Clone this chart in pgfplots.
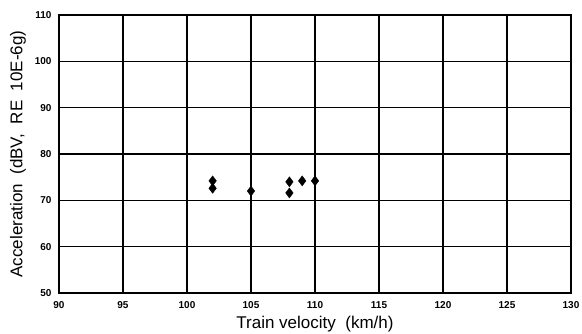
\documentclass[border=0pt]{standalone}
\usepackage{fontspec}
\setmainfont{Liberation Sans}
\usepackage{pgfplots}
\pgfplotsset{compat=1.18}
\begin{document}
\begin{tikzpicture}
\begin{axis}[
  name=ax,
  scale only axis,
  width=512pt, height=278pt,
  xmin=90, xmax=130, ymin=50, ymax=110,
  xtick={90,95,...,130}, ytick={50,60,...,110},
  grid=major,
  major grid style={black, line width=1.2pt},
  axis line style={black, line width=2pt},
  tick style={draw=none},
  /pgf/number format/assume math mode=true,
  ticklabel style={font=\fontsize{10}{11}\selectfont\bfseries},
  xticklabel style={yshift=-5pt},
  yticklabel style={xshift=-4pt},
  xlabel={Train velocity\ \ (km/h)},
  ylabel={Acceleration\ \ (dBV,\ \ RE\ \ 10E-6g)},
  every axis x label/.style={at={(axis description cs:0.5,0)}, yshift=-31pt, anchor=center, font=\fontsize{17}{19}\selectfont},
  every axis y label/.style={at={(axis description cs:0,0.5)}, xshift=-41pt, rotate=90, anchor=center, font=\fontsize{17}{19}\selectfont},
]
\addplot[only marks, mark=diamond*, mark size=5pt, black] coordinates {
  (102,74.2) (102,72.6) (105,72.0) (108,74.0) (108,71.6) (109,74.2) (110,74.2)
};
\end{axis}
\pgfresetboundingbox
\path ([shift={(-59pt,-40pt)}]ax.south west) rectangle ([shift={(11pt,15pt)}]ax.north east);
\end{tikzpicture}
\end{document}
